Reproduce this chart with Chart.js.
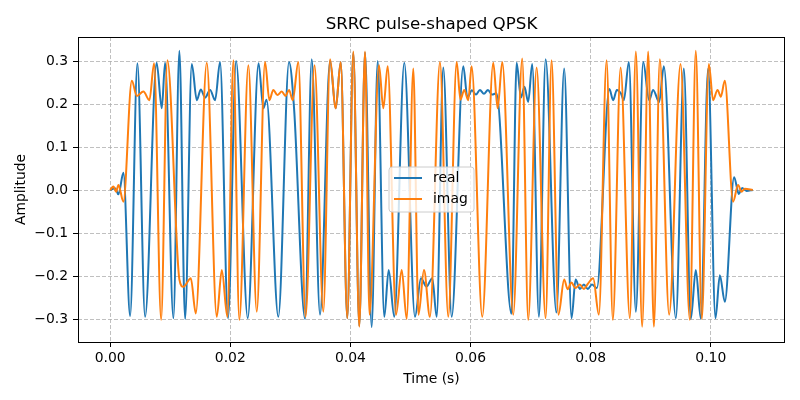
<!DOCTYPE html>
<html>
<head>
<meta charset="utf-8">
<script src="https://cdn.jsdelivr.net/npm/chart.js@4.4.0/dist/chart.umd.min.js"></script>
<style>
  html, body { margin: 0; padding: 0; background: #fff; }
</style>
</head>
<body>
<canvas id="myChart" width="800" height="400"></canvas>
<script>
// extrema (time in s, amplitude)
const realT = [0, 0.00083, 0.00138, 0.00221, 0.00333, 0.00454, 0.00582, 0.00774, 0.00860, 0.00915,
  0.01053, 0.01153, 0.01248, 0.01359, 0.01443, 0.01509, 0.01581, 0.01664, 0.01747, 0.01830,
  0.01963, 0.02097, 0.02291, 0.02471, 0.02551, 0.02604, 0.02800, 0.02978, 0.03062, 0.03245,
  0.03356, 0.03494, 0.03661, 0.03755, 0.03839, 0.03948, 0.04048, 0.04148, 0.04243, 0.04354,
  0.04454, 0.04564, 0.04637, 0.04730, 0.04897, 0.05075, 0.05175, 0.05266, 0.05363, 0.05436,
  0.05546, 0.05686, 0.05879, 0.05948, 0.06023, 0.06090, 0.06156, 0.06223, 0.06290, 0.06356,
  0.06431, 0.06681, 0.06767, 0.06839, 0.06897, 0.06960, 0.07027, 0.07138, 0.07250, 0.07429,
  0.07559, 0.07682, 0.07749, 0.07820, 0.07887, 0.07953, 0.08020, 0.08103, 0.08311, 0.08374,
  0.08436, 0.08502, 0.08552, 0.08636, 0.08752, 0.08874, 0.08974, 0.09040, 0.09140, 0.09218,
  0.09418, 0.09551, 0.09667, 0.09750, 0.09834, 0.09955, 0.10078, 0.10150, 0.10233, 0.10388,
  0.10466, 0.10521, 0.10594, 0.10699];
const realV = [0, 0.004, -0.01, 0.04, -0.293, 0.295, -0.295, 0.296, 0.19, 0.296,
  -0.298, 0.324, -0.30, 0.293, 0.209, 0.234, 0.215, 0.233, 0.209, 0.298,
  -0.298, 0.30, -0.298, 0.295, 0.19, 0.21, -0.295, 0.298, 0.19, -0.30,
  0.304, -0.29, 0.30, 0.19, 0.298, -0.298, 0.32, -0.316, 0.32, -0.319,
  0.30, -0.295, -0.186, -0.295, 0.296, -0.295, -0.205, -0.225, -0.205, -0.295,
  0.285, -0.295, 0.288, 0.215, 0.232, 0.222, 0.233, 0.224, 0.233, 0.222,
  0.225, -0.288, 0.296, 0.215, 0.24, 0.205, 0.293, -0.295, 0.304, -0.285,
  0.283, -0.298, -0.208, -0.23, -0.22, -0.23, -0.22, -0.228, 0.235, 0.209,
  0.233, 0.225, 0.209, 0.298, -0.283, 0.298, 0.209, 0.233, 0.205, 0.288,
  -0.298, 0.283, -0.30, -0.186, -0.30, 0.283, -0.298, -0.198, -0.26, 0.03,
  -0.009, 0.005, -0.002, 0];

const imagT = [0, 0.00055, 0.00100, 0.00138, 0.00221, 0.00361, 0.00444, 0.00554, 0.00654, 0.00732,
  0.00849, 0.00953, 0.01153, 0.01220, 0.01343, 0.01426, 0.01609, 0.01775, 0.01859, 0.01952,
  0.02052, 0.02151, 0.02301, 0.02441, 0.02579, 0.02651, 0.02717, 0.02784, 0.02857, 0.02920,
  0.02978, 0.03040, 0.03133, 0.03253, 0.03403, 0.03549, 0.03661, 0.03755, 0.03839, 0.03948,
  0.04048, 0.04148, 0.04243, 0.04318, 0.04476, 0.04548, 0.04621, 0.04759, 0.04854, 0.04937,
  0.05047, 0.05133, 0.05225, 0.05324, 0.05491, 0.05629, 0.05769, 0.05832, 0.05895, 0.05962,
  0.06018, 0.06195, 0.06378, 0.06451, 0.06528, 0.06711, 0.06860, 0.06960, 0.07100, 0.07250,
  0.07349, 0.07463, 0.07559, 0.07616, 0.07679, 0.07745, 0.07820, 0.07887, 0.07953, 0.08042,
  0.08136, 0.08265, 0.08369, 0.08498, 0.08652, 0.08752, 0.08857, 0.08957, 0.09052, 0.09151,
  0.09306, 0.09496, 0.09651, 0.09750, 0.09850, 0.09967, 0.10038, 0.10112, 0.10166, 0.10233,
  0.10371, 0.10454, 0.10511, 0.10566, 0.10699];
const imagV = [0, 0.008, -0.004, 0.012, -0.027, 0.254, 0.219, 0.229, 0.209, 0.295,
  -0.302, 0.302, -0.208, -0.225, -0.205, -0.287, 0.296, -0.295, -0.186, -0.295,
  0.302, -0.302, 0.29, -0.283, 0.298, 0.209, 0.233, 0.221, 0.229, 0.219,
  0.233, 0.209, 0.298, -0.295, 0.29, -0.283, 0.304, 0.19, 0.298, -0.298,
  0.322, -0.318, 0.322, -0.29, 0.29, 0.19, 0.288, -0.29, -0.186, -0.30,
  0.283, -0.29, -0.186, -0.295, 0.298, -0.295, 0.298, 0.21, 0.233, 0.209,
  0.288, -0.295, 0.296, 0.19, 0.298, -0.29, 0.306, -0.302, 0.285, -0.298,
  0.302, -0.29, -0.208, -0.231, -0.215, -0.228, -0.22, -0.23, -0.218, -0.205,
  -0.29, 0.302, -0.302, 0.285, -0.298, 0.322, -0.318, 0.322, -0.318, 0.304,
  -0.29, 0.293, -0.302, 0.324, -0.30, 0.293, 0.209, 0.233, 0.217, 0.254,
  -0.027, 0.012, -0.004, 0.003, 0];

const seriesNames = ['real', 'imag'];
const seriesColors = ['#1f77b4', '#ff7f0e'];
const xTicks = [0, 0.02, 0.04, 0.06, 0.08, 0.10];
const yTicks = [-0.3, -0.2, -0.1, 0, 0.1, 0.2, 0.3];
const titleText = 'SRRC pulse-shaped QPSK';
const xLabel = 'Time (s)';
const yLabel = 'Amplitude';

const FONT = '"DejaVu Sans", sans-serif';

const fmt = (v, d) => (v < -1e-9 ? '\u2212' + Math.abs(v).toFixed(d) : Math.abs(v).toFixed(d));
const toPoints = (ts, vs) => ts.map((t, i) => ({x: t, y: vs[i]}));

const decorations = {
  id: 'decorations',
  afterDatasetsDraw(chart) {
    const {ctx, chartArea: a} = chart;
    const cx = (a.left + a.right) / 2;
    const cy = (a.top + a.bottom) / 2;
    ctx.save();

    // frame
    ctx.strokeStyle = '#000';
    ctx.lineWidth = 1;
    ctx.strokeRect(Math.round(a.left) + 0.5, Math.round(a.top) + 0.5,
      Math.round(a.right - a.left) - 1, Math.round(a.bottom - a.top));

    // title + axis labels
    ctx.fillStyle = '#000';
    ctx.textAlign = 'center';
    ctx.textBaseline = 'alphabetic';
    ctx.font = '16.7px ' + FONT;
    ctx.fillText(titleText, cx, a.top - 8.5);

    ctx.font = '13.9px ' + FONT;
    ctx.textBaseline = 'middle';
    ctx.fillText(xLabel, cx, 379);
    ctx.save();
    ctx.translate(21, cy);
    ctx.rotate(-Math.PI / 2);
    ctx.fillText(yLabel, 0, 0);
    ctx.restore();

    // legend, matplotlib style, centred in the axes
    const bw = 85, bh = 45;
    const bx = cx - bw / 2, by = cy - bh / 2;
    const r = 3;
    ctx.beginPath();
    ctx.moveTo(bx + r, by);
    ctx.arcTo(bx + bw, by, bx + bw, by + bh, r);
    ctx.arcTo(bx + bw, by + bh, bx, by + bh, r);
    ctx.arcTo(bx, by + bh, bx, by, r);
    ctx.arcTo(bx, by, bx + bw, by, r);
    ctx.closePath();
    ctx.fillStyle = 'rgba(255,255,255,0.8)';
    ctx.fill();
    ctx.strokeStyle = '#cccccc';
    ctx.lineWidth = 1;
    ctx.stroke();

    ctx.textAlign = 'left';
    ctx.font = '13.9px ' + FONT;
    seriesNames.forEach((name, i) => {
      const ly = by + 11 + i * 21;
      ctx.strokeStyle = seriesColors[i];
      ctx.lineWidth = 2;
      ctx.beginPath();
      ctx.moveTo(bx + 5, ly);
      ctx.lineTo(bx + 33, ly);
      ctx.stroke();
      ctx.fillStyle = '#000';
      ctx.fillText(name, bx + 44, ly + 0.5);
    });
    ctx.restore();
  }
};

const ctx = document.getElementById('myChart');

new Chart(ctx, {
  type: 'scatter',
  data: {
    datasets: [
      {
        label: seriesNames[0],
        data: toPoints(realT, realV),
        showLine: true,
        borderColor: seriesColors[0],
        backgroundColor: seriesColors[0],
        borderWidth: 2,
        pointRadius: 0,
        cubicInterpolationMode: 'monotone',
        order: 1
      },
      {
        label: seriesNames[1],
        data: toPoints(imagT, imagV),
        showLine: true,
        borderColor: seriesColors[1],
        backgroundColor: seriesColors[1],
        borderWidth: 2,
        pointRadius: 0,
        cubicInterpolationMode: 'monotone',
        order: 0
      }
    ]
  },
  options: {
    responsive: false,
    animation: false,
    devicePixelRatio: 1,
    layout: { padding: { left: 0, right: 15, top: 37, bottom: 0 } },
    plugins: {
      legend: { display: false },
      tooltip: { enabled: false },
      title: { display: false }
    },
    scales: {
      x: {
        type: 'linear',
        min: -0.00535,
        max: 0.11235,
        afterBuildTicks: s => { s.ticks = xTicks.map(v => ({value: v})); },
        afterFit: s => { s.height = 58; },
        ticks: {
          callback: v => fmt(v, 2),
          color: '#000',
          font: { family: FONT, size: 13.9 },
          padding: 3,
          maxRotation: 0,
          autoSkip: false
        },
        grid: { color: '#b0b0b0', lineWidth: 0.8, tickColor: '#000', tickLength: 5, tickWidth: 1 },
        border: { display: false, dash: [4, 2] }
      },
      y: {
        type: 'linear',
        min: -0.3535,
        max: 0.356,
        afterBuildTicks: s => { s.ticks = yTicks.map(v => ({value: v})); },
        afterFit: s => { s.width = 78; },
        ticks: {
          callback: v => fmt(v, 1),
          color: '#000',
          font: { family: FONT, size: 13.9 },
          padding: 5,
          autoSkip: false
        },
        grid: { color: '#b0b0b0', lineWidth: 0.8, tickColor: '#000', tickLength: 5, tickWidth: 1 },
        border: { display: false, dash: [4, 2] }
      }
    }
  },
  plugins: [decorations]
});
</script>
</body>
</html>
